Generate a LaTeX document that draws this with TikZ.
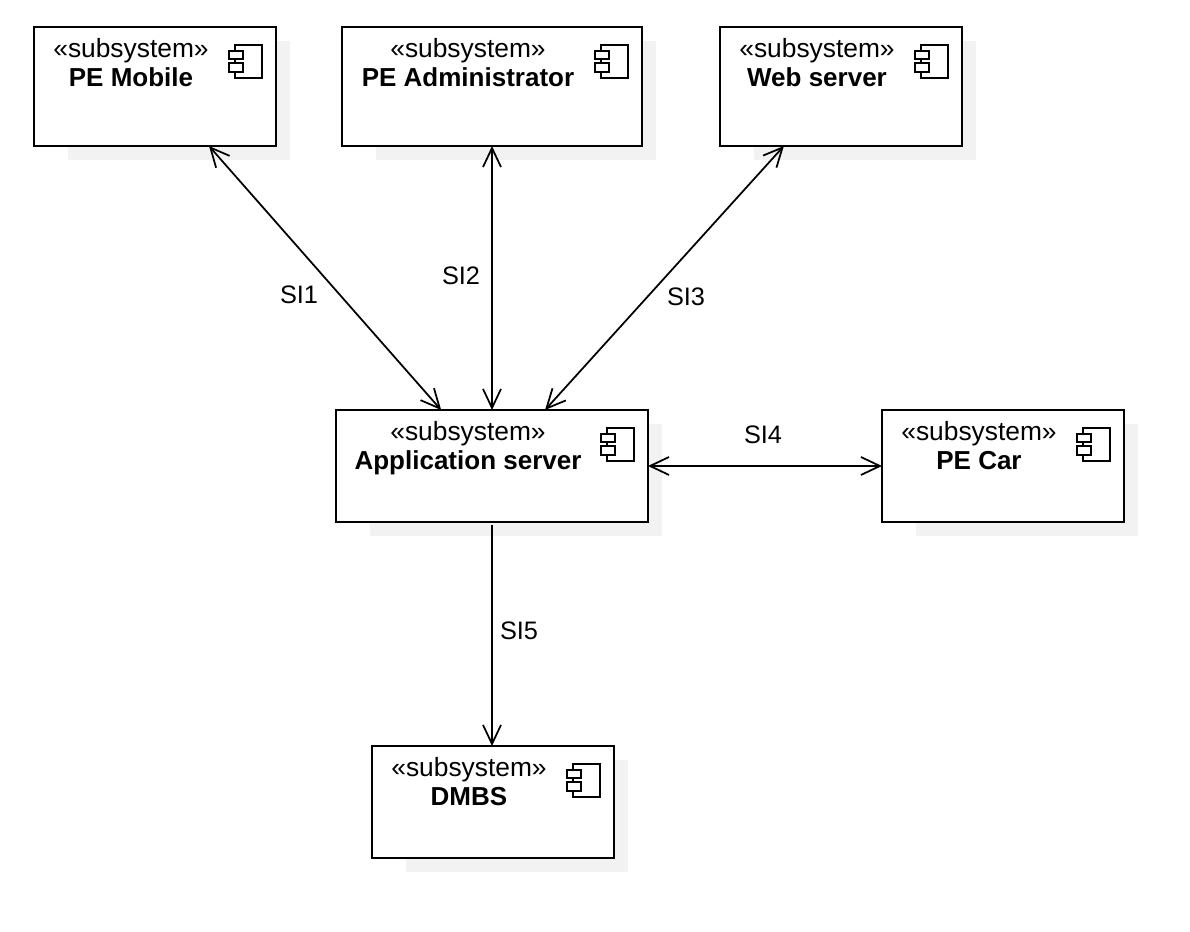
\documentclass[tikz,border=0pt]{standalone}
\usepackage{fontspec}
\setmainfont{Liberation Sans}
\usetikzlibrary{arrows.meta,calc,backgrounds}
\definecolor{boxshadow}{HTML}{F2F2F2}
\tikzset{
  subsys/.style={draw,line width=1.1pt,fill=white,outer sep=0pt,minimum width=4.84cm,minimum height=2.24cm},
  subsystext/.style={anchor=north,align=center,inner sep=0pt,font=\fontsize{15}{16.8}\selectfont},
  silabel/.style={inner sep=0pt,font=\fontsize{14.4}{16}\selectfont},
  silink/.style={line width=1pt,-{Straight Barb[length=.38cm,width=.36cm]}},
  silinkboth/.style={line width=1pt,{Straight Barb[length=.38cm,width=.36cm]}-{Straight Barb[length=.38cm,width=.36cm]}},
  pics/compicon/.style={code={
    \draw[line width=.8pt] (-.82,-.36) rectangle (-.28,-1.02);
    \draw[line width=.8pt,fill=white] (-.94,-.48) rectangle (-.66,-.64);
    \draw[line width=.8pt,fill=white] (-.94,-.72) rectangle (-.66,-.90);
  }}
}
\newcommand{\sysname}[1]{{\fontsize{14.8}{16.8}\selectfont\bfseries #1}}
\begin{document}
\begin{tikzpicture}
    \useasboundingbox (0,0) rectangle (23.8,18.64);

    \node[subsys,minimum height=2.38cm] (mobile) at (3.1,16.91) {};
    \node[subsys,minimum height=2.38cm,minimum width=6cm] (admin) at (9.84,16.91) {};
    \node[subsys,minimum height=2.38cm] (web) at (16.82,16.91) {};
    \node[subsys,minimum width=6.24cm] (appsrv) at (9.84,9.32) {};
    \node[subsys] (car) at (20.06,9.32) {};
    \node[subsys] (dmbs) at (9.86,2.6) {};

    \begin{scope}[on background layer]
        \foreach \boxname in {mobile,admin,web,appsrv,car,dmbs}
            \fill[boxshadow] ($(\boxname.south west)+(.68,-.28)$) rectangle ($(\boxname.north east)+(.28,-.28)$);
    \end{scope}

    \node[subsystext] (mobiletext) at ($(mobile.north)+(-.48,-.22)$) {«subsystem»\\\sysname{PE Mobile}};
    \node[subsystext] (admintext) at ($(admin.north)+(-.48,-.22)$) {«subsystem»\\\sysname{PE Administrator}};
    \node[subsystext] (webtext) at ($(web.north)+(-.48,-.22)$) {«subsystem»\\\sysname{Web server}};
    \node[subsystext] (appsrvtext) at ($(appsrv.north)+(-.48,-.22)$) {«subsystem»\\\sysname{Application server}};
    \node[subsystext] (cartext) at ($(car.north)+(-.48,-.22)$) {«subsystem»\\\sysname{PE Car}};
    \node[subsystext] (dmbstext) at ($(dmbs.north)+(-.48,-.22)$) {«subsystem»\\\sysname{DMBS}};

    \foreach \boxname in {mobile,admin,web,appsrv,car,dmbs}
        \pic at (\boxname.north east) {compicon};

    \draw[silinkboth] ($(mobile.south west)!.723!(mobile.south east)$) -- ($(appsrv.north west)!.337!(appsrv.north east)$);
    \draw[silinkboth] (admin.south) -- (appsrv.north);
    \draw[silinkboth] ($(web.south west)!.264!(web.south east)$) -- ($(appsrv.north west)!.67!(appsrv.north east)$);
    \draw[silinkboth] (appsrv.east) -- (car.west);
    \draw[silink] ($(appsrv.south)+(0,-.06)$) -- (appsrv.south |- dmbs.north);

    \node[silabel] (si1) at (5.98,12.74) {SI1};
    \node[silabel] (si2) at (9.22,13.12) {SI2};
    \node[silabel] (si3) at (13.72,12.7) {SI3};
    \node[silabel] (si4) at (15.26,9.94) {SI4};
    \node[silabel] (si5) at (10.38,6.02) {SI5};
\end{tikzpicture}
\end{document}
